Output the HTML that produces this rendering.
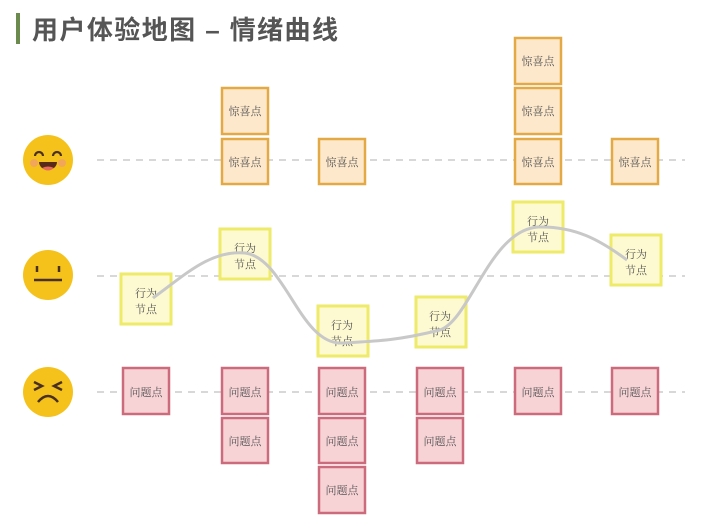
<!DOCTYPE html>
<html><head><meta charset="utf-8"><style>
html,body{margin:0;padding:0;background:#fff;width:720px;height:526px;overflow:hidden}
svg text{font-family:"Liberation Serif","Noto Serif CJK SC",serif;fill:#555}
</style></head><body>
<svg width="720" height="526" xmlns="http://www.w3.org/2000/svg">
<rect x="16" y="13" width="4" height="31" fill="#6b8a4e"/>
<text x="32" y="39" font-size="26" font-weight="bold" textLength="306" lengthAdjust="spacing" style="font-family:'Liberation Sans','Noto Sans CJK SC',sans-serif;fill:#555">用户体验地图 – 情绪曲线</text>
<g stroke="#ccc" stroke-width="1.5" stroke-dasharray="7,6">
<line x1="97" y1="160" x2="685" y2="160"/>
<line x1="97" y1="276" x2="685" y2="276"/>
<line x1="97" y1="392" x2="685" y2="392"/>
</g>
<!-- faces -->
<circle cx="48" cy="160" r="25" fill="#f5c21b"/>
<circle cx="34" cy="163" r="4" fill="#f2a65a"/><circle cx="62" cy="163" r="4" fill="#f2a65a"/>
<path d="M35 156 a4 4 0 0 1 8 0 M53 156 a4 4 0 0 1 8 0" stroke="#4a3020" stroke-width="2.2" fill="none"/>
<path d="M39 162 h18 a9 8 0 0 1 -18 0z" fill="#5a2a18"/><path d="M42 168 q6 -3 12 0 q-6 5 -12 0z" fill="#e86a5a"/>
<circle cx="48" cy="275" r="25" fill="#f5c21b"/>
<path d="M37 266 v6 M59 266 v6 M34 280 h28" stroke="#4a3020" stroke-width="2.5" fill="none"/>
<circle cx="48" cy="392" r="25" fill="#f5c21b"/>
<path d="M34 382 l8 4 l-8 4 M62 382 l-8 4 l8 4 M38 402 q10 -12 20 0" stroke="#4a3020" stroke-width="2.5" fill="none"/>
<!-- surprise -->
<g fill="#fde8cb" stroke="#e3a944" stroke-width="2.5">
<rect x="222" y="88" width="46" height="46"/><rect x="222" y="139" width="46" height="45"/>
<rect x="319" y="139" width="46" height="45"/>
<rect x="515" y="38" width="46" height="46"/><rect x="515" y="88" width="46" height="46"/><rect x="515" y="139" width="46" height="45"/>
<rect x="612" y="139" width="46" height="45"/>
</g>
<g font-size="11" text-anchor="middle">
<text x="245" y="115">惊喜点</text><text x="245" y="166">惊喜点</text>
<text x="342" y="166">惊喜点</text>
<text x="538" y="65">惊喜点</text><text x="538" y="115">惊喜点</text><text x="538" y="166">惊喜点</text>
<text x="635" y="166">惊喜点</text>
</g>
<!-- behavior -->
<g fill="#fdfad2" stroke="#eeea6a" stroke-width="3">
<rect x="121" y="274" width="50" height="50"/><rect x="220" y="229" width="50" height="50"/>
<rect x="318" y="306" width="50" height="50"/><rect x="416" y="297" width="50" height="50"/>
<rect x="513" y="202" width="50" height="50"/><rect x="611" y="235" width="50" height="50"/>
</g>
<g font-size="11" text-anchor="middle">
<text x="146" y="297">行为</text><text x="146" y="313">节点</text>
<text x="245" y="252">行为</text><text x="245" y="268">节点</text>
<text x="342" y="329">行为</text><text x="342" y="345">节点</text>
<text x="440" y="320">行为</text><text x="440" y="336">节点</text>
<text x="538" y="225">行为</text><text x="538" y="241">节点</text>
<text x="636" y="258">行为</text><text x="636" y="274">节点</text>
</g>
<path d="M153 298 C185 275 210 250 245 253 C285 258 300 345 342 343 C380 341 400 340 440 330 C470 320 490 230 538 227 C575 226 600 240 627 260" stroke="#c8c8c8" stroke-width="3" fill="none"/>
<!-- problems -->
<g fill="#f8d3d6" stroke="#cc6b7c" stroke-width="2.5">
<rect x="123" y="368" width="46" height="46"/>
<rect x="222" y="368" width="46" height="46"/><rect x="222" y="418" width="46" height="45"/>
<rect x="319" y="368" width="46" height="46"/><rect x="319" y="418" width="46" height="45"/><rect x="319" y="467" width="46" height="46"/>
<rect x="417" y="368" width="46" height="46"/><rect x="417" y="418" width="46" height="45"/>
<rect x="515" y="368" width="46" height="46"/>
<rect x="612" y="368" width="46" height="46"/>
</g>
<g font-size="11" text-anchor="middle">
<text x="146" y="396">问题点</text>
<text x="245" y="396">问题点</text><text x="245" y="445">问题点</text>
<text x="342" y="396">问题点</text><text x="342" y="445">问题点</text><text x="342" y="494">问题点</text>
<text x="440" y="396">问题点</text><text x="440" y="445">问题点</text>
<text x="538" y="396">问题点</text>
<text x="635" y="396">问题点</text>
</g>
</svg>
</body></html>
